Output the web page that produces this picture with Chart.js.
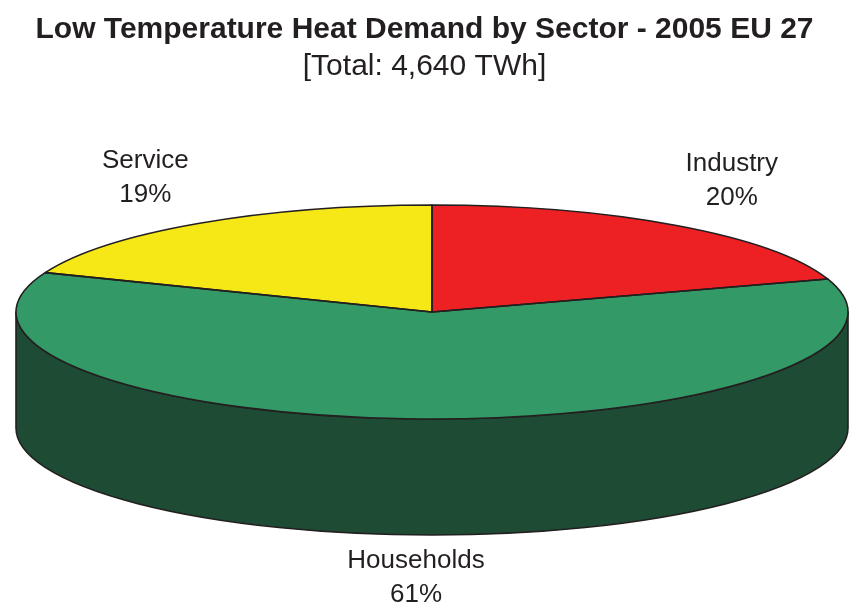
<!DOCTYPE html>
<html>
<head>
<meta charset="utf-8">
<script src="https://cdn.jsdelivr.net/npm/chart.js@4.4.1/dist/chart.umd.min.js"></script>
<style>
  html, body { margin: 0; padding: 0; background: #ffffff; }
  canvas { display: block; }
</style>
</head>
<body>
<canvas id="chart" width="849" height="606"></canvas>
<script>
// Sector shares of low temperature heat demand (percent), clockwise from 12 o'clock
const sectors = ['Industry', 'Households', 'Service'];
const shares = [20, 61, 19];
const topColors = ['#ED2024', '#339966', '#F5E816'];
const sideColors = ['#8E1316', '#1E4B34', '#938B0D'];

const titleText = 'Low Temperature Heat Demand by Sector - 2005 EU 27';
const subtitleText = '[Total: 4,640 TWh]';

const FONT = '"Liberation Sans", Arial, Helvetica, sans-serif';
const INK = '#231F20';

// Geometry of the tilted pie on the page
const view = { cx: 432, cy: 312, rx: 416, ry: 107, depth: 116 };

function pt(angle, dy) {
  return [view.cx + view.rx * Math.cos(angle), view.cy + view.ry * Math.sin(angle) + (dy || 0)];
}

const tiltedPie = {
  id: 'tiltedPie',
  beforeDatasetsDraw(chart) {
    const ctx = chart.ctx;
    const meta = chart.getDatasetMeta(0);
    // side wall for the visible (front) half of each slice
    meta.data.forEach((arc, i) => {
      const s = Math.max(arc.startAngle, 0);
      const e = Math.min(arc.endAngle, Math.PI);
      if (e <= s) return;
      ctx.save();
      ctx.beginPath();
      ctx.ellipse(view.cx, view.cy, view.rx, view.ry, 0, s, e, false);
      ctx.ellipse(view.cx, view.cy + view.depth, view.rx, view.ry, 0, e, s, true);
      ctx.closePath();
      ctx.fillStyle = sideColors[i];
      ctx.fill();
      ctx.lineWidth = 1.6;
      ctx.strokeStyle = INK;
      ctx.lineJoin = 'round';
      ctx.stroke();
      ctx.restore();
    });
    // squash the library's circular pie onto the ellipse of the top face
    const a0 = meta.data[0];
    const r = a0.outerRadius;
    ctx.save();
    ctx.translate(view.cx, view.cy);
    ctx.scale(view.rx / r, view.ry / r);
    ctx.translate(-a0.x, -a0.y);
  },
  afterDatasetsDraw(chart) {
    const ctx = chart.ctx;
    ctx.restore();
    const meta = chart.getDatasetMeta(0);
    // slice outlines on the top face
    meta.data.forEach((arc) => {
      ctx.save();
      ctx.beginPath();
      ctx.moveTo(view.cx, view.cy);
      const p = pt(arc.startAngle);
      ctx.lineTo(p[0], p[1]);
      ctx.ellipse(view.cx, view.cy, view.rx, view.ry, 0, arc.startAngle, arc.endAngle, false);
      ctx.closePath();
      ctx.lineWidth = 1.6;
      ctx.strokeStyle = INK;
      ctx.lineJoin = 'round';
      ctx.stroke();
      ctx.restore();
    });
    // category labels outside the pie
    ctx.save();
    ctx.font = '26px ' + FONT;
    ctx.fillStyle = INK;
    ctx.textAlign = 'center';
    ctx.textBaseline = 'middle';
    meta.data.forEach((arc, i) => {
      const mid = (arc.startAngle + arc.endAngle) / 2;
      const c = Math.cos(mid), s = Math.sin(mid);
      const x = view.cx + 510 * c;
      const y = view.cy + 162 * s + (s > 0 ? s * view.depth * 0.9 : 0);
      ctx.fillText(sectors[i], x, y - 17);
      ctx.fillText(shares[i] + '%', x, y + 17);
    });
    ctx.restore();
  }
};

new Chart(document.getElementById('chart'), {
  type: 'pie',
  data: {
    labels: sectors,
    datasets: [{
      data: shares,
      backgroundColor: topColors,
      borderWidth: 0,
      clip: false
    }]
  },
  options: {
    responsive: false,
    animation: false,
    events: [],
    rotation: 0,
    layout: { padding: { left: 0, right: 0, top: 0, bottom: 0 } },
    plugins: {
      legend: { display: false },
      tooltip: { enabled: false },
      title: {
        display: true,
        text: titleText,
        color: INK,
        font: { family: FONT, size: 30, weight: 'bold', lineHeight: 1.2 },
        padding: { top: 12, bottom: 0 }
      },
      subtitle: {
        display: true,
        text: subtitleText,
        color: INK,
        font: { family: FONT, size: 30, weight: 'normal', lineHeight: 1.2 },
        padding: { top: 1, bottom: 10 }
      }
    }
  },
  plugins: [tiltedPie]
});
</script>
</body>
</html>
